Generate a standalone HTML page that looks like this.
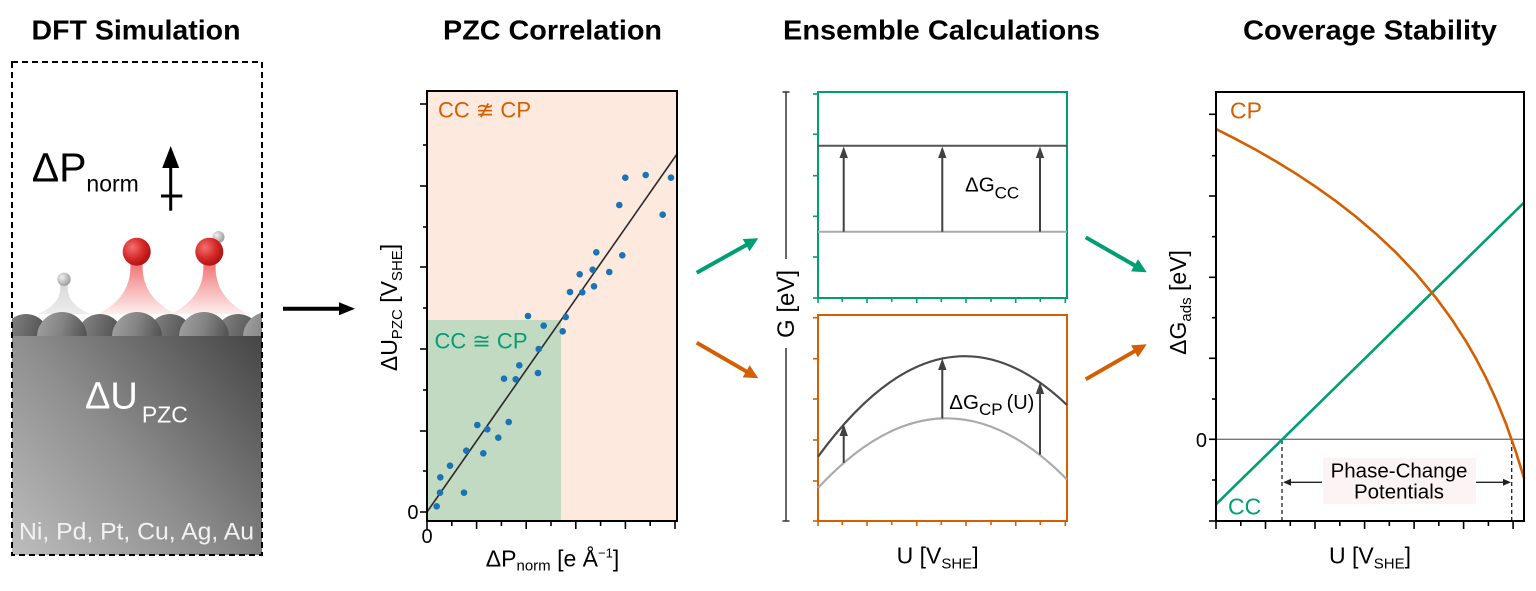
<!DOCTYPE html>
<html>
<head>
<meta charset="utf-8">
<style>
html,body{margin:0;padding:0;background:#fff;}
svg{display:block;}
text{font-family:"Liberation Sans","DejaVu Sans",sans-serif;}
</style>
</head>
<body>
<svg width="1536" height="591" viewBox="0 0 1536 591" xmlns="http://www.w3.org/2000/svg">
<defs>
  <linearGradient id="blk" x1="12" y1="555" x2="262" y2="336" gradientUnits="userSpaceOnUse">
    <stop offset="0" stop-color="#bdbdbd"/>
    <stop offset="0.45" stop-color="#8e8e8e"/>
    <stop offset="1" stop-color="#454545"/>
  </linearGradient>
  <linearGradient id="dome" x1="0" y1="0" x2="1" y2="0.3">
    <stop offset="0" stop-color="#a4a4a4"/>
    <stop offset="0.55" stop-color="#828282"/>
    <stop offset="1" stop-color="#555"/>
  </linearGradient>
  <linearGradient id="domeb" x1="0" y1="0" x2="1" y2="0.3">
    <stop offset="0" stop-color="#8a8a8a"/>
    <stop offset="1" stop-color="#4e4e4e"/>
  </linearGradient>
  <radialGradient id="red" cx="0.35" cy="0.35" r="0.7">
    <stop offset="0" stop-color="#f47070"/>
    <stop offset="0.6" stop-color="#d42626"/>
    <stop offset="1" stop-color="#a81212"/>
  </radialGradient>
  <radialGradient id="gsph" cx="0.35" cy="0.35" r="0.7">
    <stop offset="0" stop-color="#f0f0f0"/>
    <stop offset="1" stop-color="#9a9a9a"/>
  </radialGradient>
  <linearGradient id="rcone" x1="0" y1="0" x2="0" y2="1">
    <stop offset="0" stop-color="#f06a6a"/>
    <stop offset="0.5" stop-color="#f7b0b0"/>
    <stop offset="1" stop-color="#fdeeee"/>
  </linearGradient>
  <linearGradient id="gcone" x1="0" y1="0" x2="0" y2="1">
    <stop offset="0" stop-color="#d8d8d8"/>
    <stop offset="1" stop-color="#ededed"/>
  </linearGradient>
  <clipPath id="p1clip"><rect x="12" y="62" width="250" height="493"/></clipPath>
</defs>

<!-- Titles -->
<g font-weight="bold" font-size="28" fill="#000">
  <text x="31.5" y="39.5" textLength="209" lengthAdjust="spacingAndGlyphs">DFT Simulation</text>
  <text x="443" y="39.5" textLength="219" lengthAdjust="spacingAndGlyphs">PZC Correlation</text>
  <text x="783" y="39.5" textLength="317" lengthAdjust="spacingAndGlyphs">Ensemble Calculations</text>
  <text x="1243" y="39.5" textLength="254" lengthAdjust="spacingAndGlyphs">Coverage Stability</text>
</g>

<!-- ============ Panel 1 ============ -->
<g clip-path="url(#p1clip)">
  <!-- cones -->
  <path d="M60,284 Q63,303 38,314 L90,314 Q65,303 68,284 Z" fill="url(#gcone)"/>
  <path d="M130,260 Q134,296 98,314 L176,314 Q139,296 143,260 Z" fill="url(#rcone)"/>
  <path d="M203,260 Q207,296 171,314 L248,314 Q212,296 216,260 Z" fill="url(#rcone)"/>
  <!-- small gray spheres -->
  <circle cx="64" cy="279.3" r="6.7" fill="url(#gsph)"/>
  <circle cx="218.5" cy="237" r="6" fill="url(#gsph)"/>
  <!-- red spheres -->
  <circle cx="136.7" cy="251.7" r="14" fill="url(#red)"/>
  <circle cx="209.3" cy="251.7" r="14" fill="url(#red)"/>
  <!-- back domes -->
  <circle cx="26" cy="337" r="23" fill="url(#domeb)"/>
  <circle cx="100" cy="337" r="23" fill="url(#domeb)"/>
  <circle cx="170" cy="337" r="23" fill="url(#domeb)"/>
  <circle cx="238" cy="337" r="23" fill="url(#domeb)"/>
  <!-- front domes -->
  <circle cx="62" cy="337" r="25" fill="url(#dome)"/>
  <circle cx="137" cy="337" r="25" fill="url(#dome)"/>
  <circle cx="204" cy="337" r="25" fill="url(#dome)"/>
  <circle cx="268" cy="337" r="25" fill="url(#dome)"/>
  <!-- block -->
  <rect x="12" y="336" width="250" height="219" fill="url(#blk)"/>
</g>
<rect x="12" y="62" width="250" height="493" fill="none" stroke="#000" stroke-width="2" stroke-dasharray="6 4"/>

<text x="31.7" y="181.7" font-size="41" fill="#000">ΔP<tspan font-size="23" dy="10">norm</tspan></text>
<!-- up arrow -->
<line x1="170.7" y1="166" x2="170.7" y2="210.7" stroke="#000" stroke-width="3"/>
<polygon points="170.7,146 162.2,168 179.2,168" fill="#000"/>
<line x1="161" y1="196" x2="182.3" y2="196" stroke="#000" stroke-width="3"/>

<text x="85" y="408.3" font-size="38" fill="#fff">ΔU<tspan font-size="23" dy="14.4" dx="4">PZC</tspan></text>
<text x="19" y="539.3" font-size="24" fill="#f2f2f2" textLength="235" lengthAdjust="spacingAndGlyphs">Ni, Pd, Pt, Cu, Ag, Au</text>

<!-- black arrow -->
<line x1="283" y1="308.7" x2="342" y2="308.7" stroke="#000" stroke-width="4"/>
<polygon points="355,308.7 339,302.2 339,315.2" fill="#000"/>

<!-- ============ Panel 2 ============ -->
<rect x="427" y="91" width="250" height="430" fill="#fde9dd"/>
<rect x="427" y="320" width="134" height="201" fill="#c2d9c2"/>
<line x1="427" y1="512" x2="677" y2="154" stroke="#2a2a2a" stroke-width="1.6"/>
<g fill="#1a74b3">
  <circle cx="436.7" cy="506.3" r="3.3"/><circle cx="440" cy="492.7" r="3.3"/>
  <circle cx="440.3" cy="477.3" r="3.3"/><circle cx="450" cy="465.7" r="3.3"/>
  <circle cx="464" cy="492.7" r="3.3"/><circle cx="466.3" cy="450.7" r="3.3"/>
  <circle cx="477.3" cy="425" r="3.3"/><circle cx="483.3" cy="453.3" r="3.3"/>
  <circle cx="487.3" cy="429.3" r="3.3"/><circle cx="498.3" cy="437.7" r="3.3"/>
  <circle cx="508.7" cy="422" r="3.3"/><circle cx="504" cy="378.7" r="3.3"/>
  <circle cx="515.7" cy="379.3" r="3.3"/><circle cx="519.3" cy="365.3" r="3.3"/>
  <circle cx="538" cy="373" r="3.3"/><circle cx="538.7" cy="349" r="3.3"/>
  <circle cx="543.7" cy="325.7" r="3.3"/><circle cx="528" cy="316" r="3.3"/>
  <circle cx="562.7" cy="331.3" r="3.3"/><circle cx="565.7" cy="317" r="3.3"/>
  <circle cx="570" cy="292" r="3.3"/><circle cx="579.7" cy="274.3" r="3.3"/>
  <circle cx="582.3" cy="292.3" r="3.3"/><circle cx="592.7" cy="269.7" r="3.3"/>
  <circle cx="594" cy="286.3" r="3.3"/><circle cx="596.3" cy="252.3" r="3.3"/>
  <circle cx="609.3" cy="272" r="3.3"/><circle cx="622.3" cy="255.3" r="3.3"/>
  <circle cx="619.3" cy="205" r="3.3"/><circle cx="625.3" cy="177.7" r="3.3"/>
  <circle cx="645.7" cy="175" r="3.3"/><circle cx="662.7" cy="214.7" r="3.3"/>
  <circle cx="671" cy="177.7" r="3.3"/>
</g>
<rect x="427" y="91" width="250" height="430" fill="none" stroke="#000" stroke-width="2"/>
<g stroke="#000" stroke-width="1.6">
  <line x1="420" y1="104" x2="427" y2="104"/><line x1="423" y1="145" x2="427" y2="145"/>
  <line x1="420" y1="186" x2="427" y2="186"/><line x1="423" y1="227" x2="427" y2="227"/>
  <line x1="420" y1="267" x2="427" y2="267"/><line x1="423" y1="308" x2="427" y2="308"/>
  <line x1="420" y1="349" x2="427" y2="349"/><line x1="423" y1="390" x2="427" y2="390"/>
  <line x1="420" y1="431" x2="427" y2="431"/><line x1="423" y1="471" x2="427" y2="471"/>
  <line x1="420" y1="512" x2="427" y2="512"/>
  <line x1="427" y1="521" x2="427" y2="529"/><line x1="451.8" y1="521" x2="451.8" y2="526"/>
  <line x1="476.6" y1="521" x2="476.6" y2="529"/><line x1="501.4" y1="521" x2="501.4" y2="526"/>
  <line x1="526.2" y1="521" x2="526.2" y2="529"/><line x1="551" y1="521" x2="551" y2="526"/>
  <line x1="575.8" y1="521" x2="575.8" y2="529"/><line x1="600.6" y1="521" x2="600.6" y2="526"/>
  <line x1="625.4" y1="521" x2="625.4" y2="529"/><line x1="650.2" y1="521" x2="650.2" y2="526"/>
  <line x1="675" y1="521" x2="675" y2="529"/>
</g>
<text x="438" y="117.3" font-size="22" fill="#d55e00">CC ≇ CP</text>
<text x="434.5" y="348.3" font-size="22" fill="#009e73">CC ≅ CP</text>
<text x="427" y="543" font-size="20" text-anchor="middle">0</text>
<text x="418.5" y="519" font-size="20" text-anchor="end">0</text>
<text x="552.5" y="566.7" font-size="23" text-anchor="middle">ΔP<tspan font-size="15" dy="4">norm</tspan><tspan dy="-4"> [e Å</tspan><tspan font-size="13" dy="-9">−1</tspan><tspan dy="9">]</tspan></text>
<text transform="translate(397,307.5) rotate(-90)" font-size="23" text-anchor="middle">ΔU<tspan font-size="15" dy="5">PZC</tspan><tspan dy="-5"> [V</tspan><tspan font-size="15" dy="5">SHE</tspan><tspan dy="-5">]</tspan></text>

<!-- ============ Panel 3 ============ -->
<!-- colored arrows -->
<line x1="696.7" y1="272.7" x2="747" y2="244.6" stroke="#009e73" stroke-width="4"/>
<polygon points="758.3,238.3 749.5,251.2 742.7,239" fill="#009e73"/>
<line x1="1085.7" y1="237.3" x2="1135.5" y2="265.9" stroke="#009e73" stroke-width="4"/>
<polygon points="1146.7,272.3 1131.1,271.4 1138,259.3" fill="#009e73"/>
<line x1="696.7" y1="342.7" x2="747" y2="371.8" stroke="#d55e00" stroke-width="4"/>
<polygon points="758.3,378.3 742.7,377.4 749.7,365.2" fill="#d55e00"/>
<line x1="1085.7" y1="379.3" x2="1135.5" y2="350.7" stroke="#d55e00" stroke-width="4"/>
<polygon points="1146.7,344.3 1138,357.4 1131.1,345.2" fill="#d55e00"/>

<!-- G axis -->
<g stroke="#333" stroke-width="1.5">
  <line x1="786" y1="92" x2="786" y2="259"/>
  <line x1="786" y1="348" x2="786" y2="521"/>
  <line x1="782.5" y1="92" x2="789.5" y2="92"/>
  <line x1="782.5" y1="521" x2="789.5" y2="521"/>
</g>
<text transform="translate(794,304) rotate(-90)" font-size="24" text-anchor="middle">G [eV]</text>

<!-- top panel -->
<rect x="818" y="92" width="249" height="206" fill="#fff" stroke="#009e73" stroke-width="2"/>
<line x1="818" y1="145.7" x2="1067" y2="145.7" stroke="#555" stroke-width="2"/>
<line x1="818" y1="231.7" x2="1067" y2="231.7" stroke="#aaa" stroke-width="2"/>
<g stroke="#404040" stroke-width="2">
  <line x1="843.7" y1="231.7" x2="843.7" y2="156"/>
  <line x1="942.3" y1="231.7" x2="942.3" y2="156"/>
  <line x1="1040" y1="231.7" x2="1040" y2="156"/>
</g>
<g fill="#404040">
  <polygon points="843.7,146.5 839.5,158 847.9,158"/>
  <polygon points="942.3,146.5 938.1,158 946.5,158"/>
  <polygon points="1040,146.5 1035.8,158 1044.2,158"/>
</g>
<text x="965" y="191.7" font-size="20.5">ΔG<tspan font-size="17" dy="6.6">CC</tspan></text>
<g stroke="#009e73" stroke-width="1.6">
  <line x1="813" y1="94" x2="818" y2="94"/><line x1="813" y1="134.3" x2="818" y2="134.3"/>
  <line x1="813" y1="175.7" x2="818" y2="175.7"/><line x1="813" y1="216.3" x2="818" y2="216.3"/>
  <line x1="813" y1="257" x2="818" y2="257"/><line x1="813" y1="298" x2="818" y2="298"/>
  <line x1="818" y1="298" x2="818" y2="303"/><line x1="842.3" y1="298" x2="842.3" y2="302"/>
  <line x1="867" y1="298" x2="867" y2="303"/><line x1="891.7" y1="298" x2="891.7" y2="302"/>
  <line x1="916.7" y1="298" x2="916.7" y2="303"/><line x1="941.3" y1="298" x2="941.3" y2="302"/>
  <line x1="966" y1="298" x2="966" y2="303"/><line x1="991" y1="298" x2="991" y2="302"/>
  <line x1="1015.7" y1="298" x2="1015.7" y2="303"/><line x1="1040.3" y1="298" x2="1040.3" y2="302"/>
  <line x1="1065.3" y1="298" x2="1065.3" y2="303"/>
</g>

<!-- bottom panel -->
<rect x="818" y="315" width="249" height="206" fill="#fff" stroke="#d55e00" stroke-width="2"/>
<path d="M818,488 Q942.5,353 1067,479.5" fill="none" stroke="#aaa" stroke-width="2.2"/>
<path d="M818,456.7 Q942.5,286.1 1067,405" fill="none" stroke="#4a4a4a" stroke-width="2.2"/>
<g stroke="#404040" stroke-width="2">
  <line x1="843.7" y1="462.9" x2="843.7" y2="434"/>
  <line x1="942.3" y1="418.4" x2="942.3" y2="368"/>
  <line x1="1040" y1="454.6" x2="1040" y2="392"/>
</g>
<g fill="#404040">
  <polygon points="843.7,424.3 839.5,436 847.9,436"/>
  <polygon points="942.3,358.5 938.1,370 946.5,370"/>
  <polygon points="1040,382.2 1035.8,394 1044.2,394"/>
</g>
<text x="949.3" y="409" font-size="20.5">ΔG<tspan font-size="17" dy="6">CP</tspan><tspan font-size="20" dy="-6" dx="4">(U)</tspan></text>
<g stroke="#d55e00" stroke-width="1.6">
  <line x1="813" y1="317.7" x2="818" y2="317.7"/><line x1="813" y1="358.7" x2="818" y2="358.7"/>
  <line x1="813" y1="399" x2="818" y2="399"/><line x1="813" y1="440" x2="818" y2="440"/>
  <line x1="813" y1="481" x2="818" y2="481"/><line x1="813" y1="521" x2="818" y2="521"/>
  <line x1="818" y1="521" x2="818" y2="526"/><line x1="842.3" y1="521" x2="842.3" y2="525"/>
  <line x1="867" y1="521" x2="867" y2="526"/><line x1="891.7" y1="521" x2="891.7" y2="525"/>
  <line x1="916.7" y1="521" x2="916.7" y2="526"/><line x1="941.3" y1="521" x2="941.3" y2="525"/>
  <line x1="966" y1="521" x2="966" y2="526"/><line x1="991" y1="521" x2="991" y2="525"/>
  <line x1="1015.7" y1="521" x2="1015.7" y2="526"/><line x1="1040.3" y1="521" x2="1040.3" y2="525"/>
  <line x1="1065.3" y1="521" x2="1065.3" y2="526"/>
</g>
<text x="937.6" y="563.3" font-size="23" text-anchor="middle">U [V<tspan font-size="15" dy="5">SHE</tspan><tspan dy="-5">]</tspan></text>

<!-- ============ Panel 4 ============ -->
<line x1="1216" y1="439.3" x2="1524" y2="439.3" stroke="#777" stroke-width="1.4"/>
<rect x="1323" y="458" width="153" height="46" fill="#fcf4f4"/>
<g stroke="#222" stroke-width="1.3" stroke-dasharray="4 3">
  <line x1="1282" y1="440" x2="1282" y2="521"/>
  <line x1="1511.7" y1="440" x2="1511.7" y2="521"/>
</g>
<g stroke="#222" stroke-width="1.3">
  <line x1="1288" y1="482.3" x2="1322" y2="482.3"/>
  <line x1="1476" y1="482.3" x2="1505" y2="482.3"/>
</g>
<polygon points="1283,482.3 1291,478.8 1291,485.8" fill="#222"/>
<polygon points="1511,482.3 1503,478.8 1503,485.8" fill="#222"/>
<text x="1399" y="477.7" font-size="20.5" text-anchor="middle">Phase-Change</text>
<text x="1399" y="498.3" font-size="20.5" text-anchor="middle">Potentials</text>

<line x1="1216" y1="504.3" x2="1524.3" y2="202.3" stroke="#009e73" stroke-width="2.6"/>
<polyline fill="none" stroke="#d55e00" stroke-width="2.6" points="1216,129 1236,139.2 1256,149.9 1276,161.4 1296,173.7 1316,186.9 1336,201.2 1356,216.7 1376,233.8 1396,252.6 1416,273.7 1436,297.8 1451,318.2 1466,341.3 1476,358.6 1486,377.8 1496,399.3 1506,423.8 1516,452.3 1524.3,479"/>

<rect x="1216" y="92" width="308" height="429" fill="none" stroke="#000" stroke-width="2"/>
<g stroke="#000" stroke-width="1.6">
  <line x1="1209" y1="114.3" x2="1216" y2="114.3"/><line x1="1212" y1="155.7" x2="1216" y2="155.7"/>
  <line x1="1209" y1="196" x2="1216" y2="196"/><line x1="1212" y1="236.7" x2="1216" y2="236.7"/>
  <line x1="1209" y1="277.3" x2="1216" y2="277.3"/><line x1="1212" y1="317.7" x2="1216" y2="317.7"/>
  <line x1="1209" y1="358.3" x2="1216" y2="358.3"/><line x1="1212" y1="399" x2="1216" y2="399"/>
  <line x1="1209" y1="439.3" x2="1216" y2="439.3"/><line x1="1212" y1="480" x2="1216" y2="480"/>
  <line x1="1209" y1="521" x2="1216" y2="521"/>
  <line x1="1216" y1="521" x2="1216" y2="529"/><line x1="1240.8" y1="521" x2="1240.8" y2="526"/>
  <line x1="1265.5" y1="521" x2="1265.5" y2="529"/><line x1="1290.3" y1="521" x2="1290.3" y2="526"/>
  <line x1="1315" y1="521" x2="1315" y2="529"/><line x1="1339.8" y1="521" x2="1339.8" y2="526"/>
  <line x1="1364.6" y1="521" x2="1364.6" y2="529"/><line x1="1389.3" y1="521" x2="1389.3" y2="526"/>
  <line x1="1414.1" y1="521" x2="1414.1" y2="529"/><line x1="1438.8" y1="521" x2="1438.8" y2="526"/>
  <line x1="1463.6" y1="521" x2="1463.6" y2="529"/><line x1="1488.4" y1="521" x2="1488.4" y2="526"/>
  <line x1="1513.1" y1="521" x2="1513.1" y2="529"/>
</g>
<text x="1230" y="118.3" font-size="23" fill="#d55e00">CP</text>
<text x="1228" y="514.3" font-size="23" fill="#009e73">CC</text>
<text x="1207" y="447" font-size="20" text-anchor="end">0</text>
<text x="1370" y="563.3" font-size="23" text-anchor="middle">U [V<tspan font-size="15" dy="5">SHE</tspan><tspan dy="-5">]</tspan></text>
<text transform="translate(1186,302.5) rotate(-90)" font-size="23" text-anchor="middle">ΔG<tspan font-size="15" dy="5">ads</tspan><tspan dy="-5"> [eV]</tspan></text>
</svg>
</body>
</html>
